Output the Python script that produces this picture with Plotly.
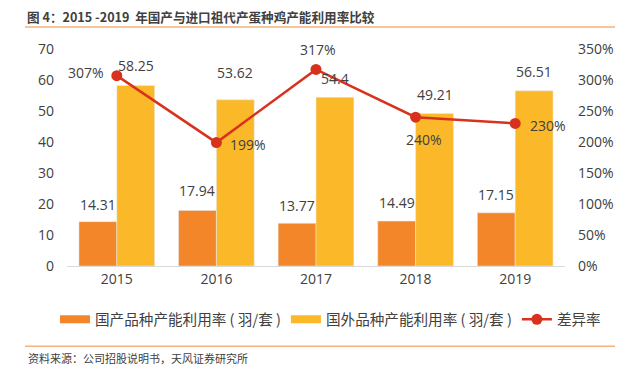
import plotly.graph_objects as go

years = ["2015", "2016", "2017", "2018", "2019"]
domestic = [14.31, 17.94, 13.77, 14.49, 17.15]
foreign = [58.25, 53.62, 54.4, 49.21, 56.51]
diff_pct = [307, 199, 317, 240, 230]
left_ticks = [0, 10, 20, 30, 40, 50, 60, 70]
right_ticks = [0, 50, 100, 150, 200, 250, 300, 350]

NAME_DOM = "国产品种产能利用率 ( 羽/套 )"
NAME_FOR = "国外品种产能利用率 ( 羽/套 )"
NAME_DIFF = "差异率"

FONT = "Open Sans, Noto Sans CJK SC, sans-serif"
CJK = "Noto Sans CJK SC, sans-serif"
C_DOM = "#F4862A"
C_FOR = "#FBB92A"
C_LINE = "#D8321E"
TXT = "#404040"

# page body adds an 8px margin; figure is sized to fit the 640x371 window
OFF = 8
W, H = 640 - OFF, 371 - OFF
L, R, T, B = 67 - OFF, 75, 49 - OFF, 104.5
pw, ph = W - L - R, H - T - B

def px(x):  # reference-window pixel -> paper
    return (x - OFF - L) / pw

def py(y):
    return (H - B - (y - OFF)) / ph

fig = go.Figure()
fig.add_trace(go.Bar(
    x=years, y=domestic, name=NAME_DOM, showlegend=False, marker_color=C_DOM,
))
fig.add_trace(go.Bar(
    x=years, y=foreign, name=NAME_FOR, showlegend=False, marker_color=C_FOR,
))
fig.add_trace(go.Scatter(
    x=years, y=diff_pct, name=NAME_DIFF, yaxis="y2", showlegend=False,
    mode="lines+markers",
    line=dict(color=C_LINE, width=2.5),
    marker=dict(color=C_LINE, size=11),
    cliponaxis=False,
))
# legend-only entries (wide rectangular swatches like the reference)
fig.add_trace(go.Scatter(x=[None], y=[None], mode="lines", name=NAME_DOM,
                         line=dict(color=C_DOM, width=8)))
fig.add_trace(go.Scatter(x=[None], y=[None], mode="lines", name=NAME_FOR,
                         line=dict(color=C_FOR, width=8)))
fig.add_trace(go.Scatter(x=[None], y=[None], mode="lines+markers", name=NAME_DIFF,
                         line=dict(color=C_LINE, width=2.5), marker=dict(color=C_LINE, size=11)))

annots = []
# bar value labels (category axis: annotation x is the category index)
dom_lift = [17, 20, 18, 19, 18]
for_lift = [20, 27, 19, 19, 19]
for i, v in enumerate(domestic):
    annots.append(dict(x=i, y=v, xref="x", yref="y", text=f"{v:.2f}", showarrow=False,
                       xanchor="center", yanchor="middle", xshift=-19, yshift=dom_lift[i],
                       font=dict(size=14, color=TXT, family=FONT)))
for i, v in enumerate(foreign):
    annots.append(dict(x=i, y=v, xref="x", yref="y", text=f"{v:g}", showarrow=False,
                       xanchor="center", yanchor="middle", xshift=19, yshift=for_lift[i],
                       font=dict(size=14, color=TXT, family=FONT)))

# percentage labels
label_style = [
    dict(xanchor="right", yanchor="middle", xshift=-11, yshift=3),
    dict(xanchor="left", yanchor="middle", xshift=12, yshift=-2),
    dict(xanchor="center", yanchor="bottom", xshift=2, yshift=8),
    dict(xanchor="center", yanchor="middle", xshift=8, yshift=-22),
    dict(xanchor="left", yanchor="middle", xshift=13, yshift=-2),
]
for i, (v, st) in enumerate(zip(diff_pct, label_style)):
    annots.append(dict(x=i, y=v, xref="x", yref="y2", text=f"{v}%", showarrow=False,
                       font=dict(size=14, color=TXT, family=FONT), **st))

annots += [
    dict(text="<b>图 4：2015 -2019  年国产与进口祖代产蛋种鸡产能利用率比较</b>", xref="paper", yref="paper",
         x=px(25), y=py(16), xanchor="left", yanchor="middle", showarrow=False,
         font=dict(size=12.6, color="#404040", family=CJK)),
    dict(text="资料来源：公司招股说明书，天风证券研究所", xref="paper", yref="paper",
         x=px(26), y=py(359), xanchor="left", yanchor="middle", showarrow=False,
         font=dict(size=11, color="#404040", family=CJK)),
]

fig.update_layout(
    width=W, height=H,
    margin=dict(l=L, r=R, t=T, b=B, autoexpand=False),
    paper_bgcolor="white", plot_bgcolor="white",
    font=dict(family=FONT, size=14, color=TXT),
    barmode="group", bargap=0.24, bargroupgap=0,
    legend=dict(orientation="h", x=px(55), y=py(320), yanchor="middle", xanchor="left",
                font=dict(size=14.6, color=TXT, family=CJK), tracegroupgap=0,
                bgcolor="rgba(0,0,0,0)"),
    xaxis=dict(type="category", range=[-0.5, 4.5], showgrid=False, showline=True,
               linecolor="#D9D9D9", linewidth=1, ticks="", tickfont=dict(size=14, color=TXT)),
    yaxis=dict(range=[0, 70], tickvals=left_ticks, showgrid=False, zeroline=False,
               showline=False, ticks="", tickfont=dict(size=14, color=TXT), ticklabelstandoff=12),
    yaxis2=dict(range=[0, 350], tickvals=right_ticks, ticktext=[f"{v}%" for v in right_ticks],
                overlaying="y", side="right", showgrid=False, zeroline=False,
                showline=False, ticks="", tickfont=dict(size=14, color=TXT), ticklabelstandoff=12),
    shapes=[
        dict(type="line", xref="paper", yref="paper", x0=px(25), x1=px(615), y0=py(27), y1=py(27),
             line=dict(color="#F5B27A", width=1.5)),
        dict(type="line", xref="paper", yref="paper", x0=px(25), x1=px(615), y0=py(347), y1=py(347),
             line=dict(color="#F5B27A", width=1.5)),
    ],
    annotations=annots,
)

fig.write_html("out.html")
